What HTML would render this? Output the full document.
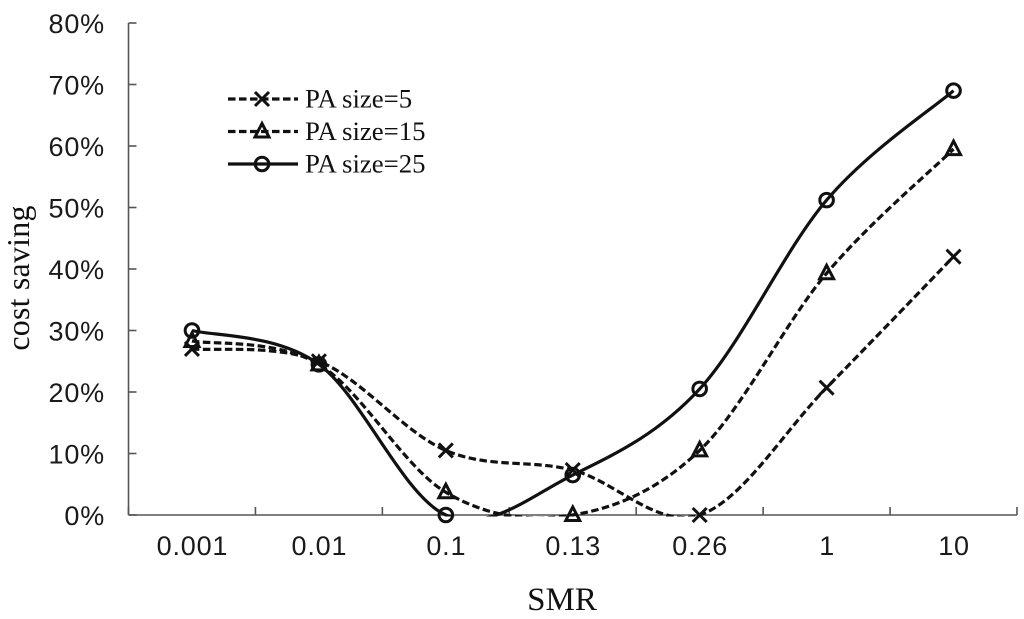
<!DOCTYPE html>
<html>
<head>
<meta charset="utf-8">
<style>
html,body{margin:0;padding:0;background:#fff;}
svg{display:block;}
.tick{font-family:"Liberation Sans",sans-serif;font-size:27px;fill:#1a1a1a;letter-spacing:0.8px;}
.serif{font-family:"Liberation Serif",serif;fill:#111;}
</style>
</head>
<body>
<svg id="chart" width="1024" height="619" viewBox="0 0 1024 619" xmlns="http://www.w3.org/2000/svg">
<defs><clipPath id="plot-clip"><rect x="120" y="10" width="900" height="506.5"/></clipPath></defs>
<g id="axes"></g>
<g id="series"></g>
<g id="legend"></g>
<text class="serif" x="562" y="610" font-size="33" text-anchor="middle">SMR</text>
<text class="serif" transform="translate(29,278) rotate(-90)" font-size="32" letter-spacing="0.2" text-anchor="middle">cost saving</text>
</svg>
<script>
const categories = ['0.001','0.01','0.1','0.13','0.26','1','10'];
const yTickLabels = ['0%','10%','20%','30%','40%','50%','60%','70%','80%'];
const yTickValues = [0,10,20,30,40,50,60,70,80];
const paSize5 = [27,25,10.5,7.3,0,20.7,42];
const paSize15 = [28.3,24.5,3.7,0,10.5,39.3,59.5];
const paSize25 = [30,24.5,0,6.5,20.5,51.2,69];
const seriesNames = ['PA size=5','PA size=15','PA size=25'];

const NS = 'http://www.w3.org/2000/svg';
const left = 128.5, right = 1017, y0 = 515, yTop = 23;
const step = (right - left) / categories.length;
const xPos = i => left + step * (i + 0.5);
const yPos = v => y0 - (v / 80) * (y0 - yTop);

function mk(tag, attrs, parent) {
  const el = document.createElementNS(NS, tag);
  for (const k in attrs) el.setAttribute(k, attrs[k]);
  parent.appendChild(el);
  return el;
}
function smoothPath(vals) {
  const p = vals.map((v, i) => [xPos(i), yPos(v)]);
  let d = 'M' + p[0][0] + ' ' + p[0][1];
  for (let i = 0; i < p.length - 1; i++) {
    const a = p[Math.max(i - 1, 0)], b = p[i], c = p[i + 1], e = p[Math.min(i + 2, p.length - 1)];
    d += ' C' + (b[0] + (c[0] - a[0]) / 6) + ' ' + (b[1] + (c[1] - a[1]) / 6) + ' ' +
         (c[0] - (e[0] - b[0]) / 6) + ' ' + (c[1] - (e[1] - b[1]) / 6) + ' ' + c[0] + ' ' + c[1];
  }
  return d;
}
function marker(kind, x, y, parent) {
  const style = { fill: 'none', stroke: '#111', 'stroke-width': 3 };
  if (kind === 'x') {
    const s = 7;
    return mk('path', Object.assign({ d: `M${x - s} ${y - s}L${x + s} ${y + s}M${x - s} ${y + s}L${x + s} ${y - s}` }, style), parent);
  }
  if (kind === 'tri') {
    return mk('path', Object.assign({ d: `M${x} ${y - 8}L${x + 7} ${y + 5.5}L${x - 7} ${y + 5.5}Z` }, style), parent);
  }
  return mk('circle', Object.assign({ cx: x, cy: y, r: 6.8 }, style), parent);
}

const axes = document.getElementById('axes');
const axisStyle = { stroke: '#555', 'stroke-width': 1.6, fill: 'none' };
const yAxisLine = mk('line', Object.assign({ x1: left, y1: yTop, x2: left, y2: y0 }, axisStyle), axes);


const xAxisLine = mk('line', Object.assign({ x1: left, y1: y0, x2: right, y2: y0 }, axisStyle), axes);



yTickValues.forEach((v, i) => {
  const t = mk('line', Object.assign({ x1: left, y1: yPos(v), x2: left + 8, y2: yPos(v) }, axisStyle), axes);
  
  
  const l = mk('text', { class: 'tick', x: 105, y: yPos(v) + 10, 'text-anchor': 'end' }, axes);
  
  
  l.textContent = yTickLabels[i];
});
for (let i = 0; i <= categories.length; i++) {
  const x = left + step * i;
  const t = mk('line', Object.assign({ x1: x, y1: y0 - 8, x2: x, y2: y0 }, axisStyle), axes);
  
  
}
categories.forEach((c, i) => {
  const l = mk('text', { class: 'tick', x: xPos(i) + 0.5, y: 555, 'text-anchor': 'middle' }, axes);
  
  
  l.textContent = c;
});

const seriesGroup = document.getElementById('series');
const legendGroup = document.getElementById('legend');
const seriesDefs = [
  { vals: paSize5, kind: 'x', dash: '7.5 3.5' },
  { vals: paSize15, kind: 'tri', dash: '7.5 3.5' },
  { vals: paSize25, kind: 'o', dash: '' }
];
seriesDefs.forEach((s, si) => {
  const line = mk('path', { d: smoothPath(s.vals), fill: 'none', stroke: '#111', 'stroke-width': 3.2, 'clip-path': 'url(#plot-clip)' }, seriesGroup);
  if (s.dash) line.setAttribute('stroke-dasharray', s.dash);
  
  
  s.vals.forEach((v, i) => {
    const m = marker(s.kind, xPos(i), yPos(v), seriesGroup);
    
    
  });
  const ly = 99 + si * 32.5;
  const ll = mk('line', { x1: 228, y1: ly, x2: 298, y2: ly, stroke: '#111', 'stroke-width': 3.2 }, legendGroup);
  if (s.dash) ll.setAttribute('stroke-dasharray', s.dash);
  
  
  const lm = marker(s.kind, 262, ly, legendGroup);
  
  
  const lt = mk('text', { class: 'serif', x: 305, y: ly + 8.5, 'font-size': 26.8 }, legendGroup);
  
  
  lt.textContent = seriesNames[si];
});
</script>
</body>
</html>
